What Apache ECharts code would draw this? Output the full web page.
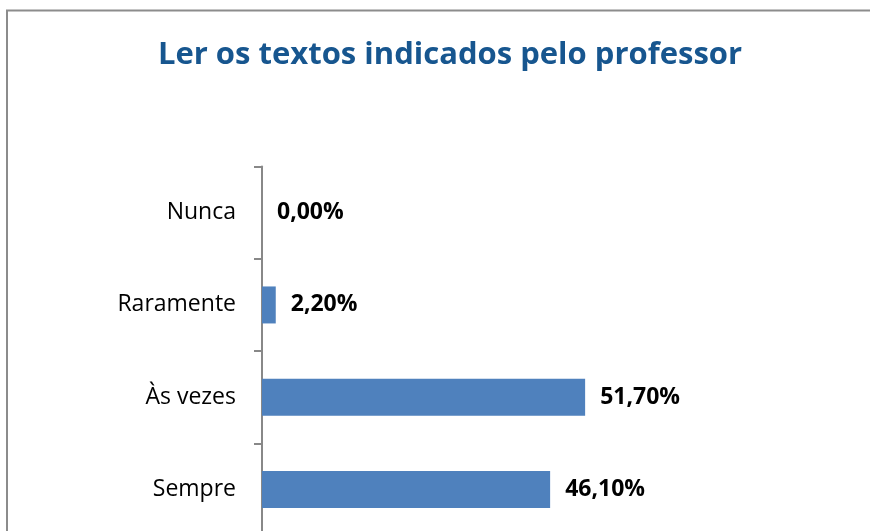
<!DOCTYPE html>
<html>
<head>
<meta charset="utf-8">
<script src="https://cdn.jsdelivr.net/npm/echarts@6/dist/echarts.min.js"></script>
<style>
html,body{margin:0;padding:0;overflow:hidden;background:#fff;}
#c{width:870px;height:540px;}
</style>
</head>
<body>
<div id="c"></div>
<script>
const titleText = 'Ler os textos indicados pelo professor';
const categories = ['Nunca', 'Raramente', 'Às vezes', 'Sempre'];
const values = [0.0, 2.2, 51.7, 46.1];

const chart = echarts.init(document.getElementById('c'), null, {renderer: 'canvas'});
chart.setOption({
  animation: false,
  backgroundColor: '#ffffff',
  title: {
    text: titleText,
    left: 445,
    top: 35,
    textAlign: 'center',
    textStyle: {
      fontFamily: 'Open Sans',
      fontWeight: 'bold',
      fontSize: 31,
      color: '#17568F'
    }
  },
  graphic: [
    {type: 'polyline', shape: {points: [[7, 560], [7, 10.5], [880, 10.5]]},
     style: {stroke: '#8C8C8C', lineWidth: 2, fill: null}, silent: true}
  ],
  grid: {left: 262, top: 166.5, right: 233, bottom: 4.3, containLabel: false},
  xAxis: {
    type: 'value', min: 0, max: 60, show: false
  },
  yAxis: {
    type: 'category',
    data: categories,
    inverse: true,
    axisLine: {show: true, lineStyle: {color: '#888888', width: 2}},
    axisTick: {show: true, length: 8, inside: false, lineStyle: {color: '#888888', width: 2}},
    axisLabel: {
      margin: 26,
      fontFamily: 'Open Sans',
      fontSize: 23,
      color: '#000000'
    }
  },
  series: [{
    type: 'bar',
    data: values,
    barWidth: 37,
    itemStyle: {color: '#4F81BD'},
    label: {
      show: true,
      position: 'right',
      distance: 15,
      fontFamily: 'Open Sans',
      fontWeight: 'bold',
      fontSize: 23,
      color: '#000000',
      formatter: p => p.value.toFixed(2).replace('.', ',') + '%'
    }
  }]
});
</script>
</body>
</html>
